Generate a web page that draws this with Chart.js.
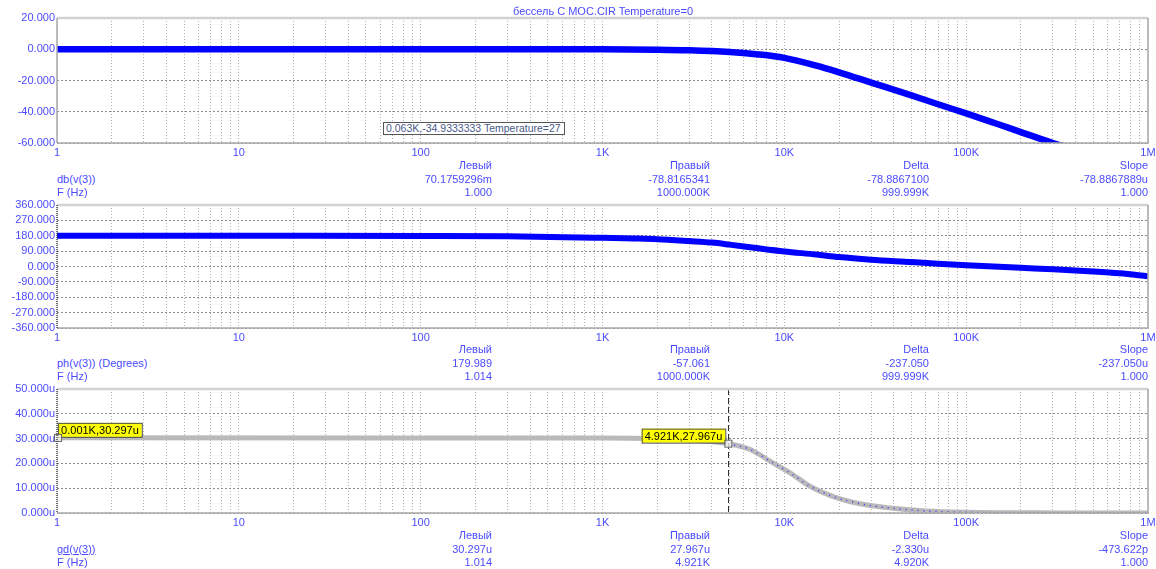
<!DOCTYPE html>
<html>
<head>
<meta charset="utf-8">
<script src="https://cdn.jsdelivr.net/npm/chart.js@4.4.1/dist/chart.umd.min.js"></script>
<style>
body { margin: 0; background: #fff; }
#wrap { position: relative; width: 1156px; height: 569px; overflow: hidden;
  font-family: "Liberation Sans", Arial, sans-serif; font-size: 11px; color: #4b4bff; }
canvas { position: absolute; left: 0; }
.t { position: absolute; white-space: nowrap; line-height: 12px; }
#tip { position: absolute; left: 383px; top: 122px; height: 11px; line-height: 11px; white-space: nowrap;
  border: 1.5px solid #555; background: #fff; color: #4a5a8a; font-size: 10.5px; padding: 0 3px 0 2px; }
</style>
</head>
<body>
<div id="wrap">
  <canvas id="c1" width="1156" height="160" style="top:0"></canvas>
  <canvas id="c2" width="1156" height="150" style="top:195px"></canvas>
  <canvas id="c3" width="1156" height="150" style="top:380px"></canvas>
  <div class="t" id="title" style="left:0;width:1206px;text-align:center;top:5px">бессель С МОС.CIR Temperature=0</div>
  <div id="tip">0.063K,-34.9333333 Temperature=27</div>
</div>
<script>
// x axis (log, 1 Hz .. 1 MHz)
const decades = [1, 10, 100, 1e3, 1e4, 1e5, 1e6];
const decadeLabels = ['1', '10', '100', '1K', '10K', '100K', '1M'];

// db(v(3))
const magFreq = [1, 10, 100, 1000, 2000, 3000, 5000, 7000, 10000, 15000, 20000, 30000, 50000, 70000, 100000, 150000, 200000, 300000, 500000, 1000000];
const magDb = [0.07, 0.07, 0.06, 0, -0.3, -0.7, -1.8, -3.2, -5.5, -10.5, -14.8, -21.3, -29.5, -35.2, -41, -48, -53, -60, -67, -78.8];
const magTicks = [-60, -40, -20, 0, 20];

// ph(v(3))
const phFreq = [1, 10, 100, 300, 1000, 1500, 2000, 3000, 4000, 5000, 7000, 10000, 15000, 20000, 30000, 50000, 70000, 100000, 200000, 300000, 500000, 700000, 1000000];
const phDeg = [179.99, 179.9, 179, 177, 168, 164, 160, 149, 140, 128, 108, 88, 70, 55, 40, 26, 16, 7, -8, -16, -29, -40, -57];
const phTicks = [-360, -270, -180, -90, 0, 90, 180, 270, 360];

// gd(v(3)), microseconds
const gdFreq = [1, 100, 1000, 2000, 3000, 4000, 4921, 6500, 8350, 10800, 13900, 18600, 26100, 39600, 60000, 100000, 300000, 1000000];
const gdUs = [30.297, 30.29, 30.2, 29.9, 29.4, 28.8, 27.967, 25.6, 20.9, 16.1, 10.7, 6.6, 3.7, 1.9, 0.8, 0.3, 0.05, 0.01];
const gdTicks = [0, 10, 20, 30, 40, 50];

// cursors on the gd plot
const cursorFreq = [1.014, 4921];
const cursorGd = [30.297, 27.967];
const cursorText = ['0.001K,30.297u', '4.921K,27.967u'];

// readouts under each plot
const colHeads = ['Левый', 'Правый', 'Delta', 'Slope'];
const readouts = [
  { name: 'db(v(3))', vals: ['70.1759296m', '-78.8165341', '-78.8867100', '-78.8867889u'], freqs: ['1.000', '1000.000K', '999.999K', '1.000'] },
  { name: 'ph(v(3)) (Degrees)', vals: ['179.989', '-57.061', '-237.050', '-237.050u'], freqs: ['1.014', '1000.000K', '999.999K', '1.000'] },
  { name: 'gd(v(3))', vals: ['30.297u', '27.967u', '-2.330u', '-473.622p'], freqs: ['1.014', '4.921K', '4.920K', '1.000'], underline: true }
];

const BLUE = '#4b4bff';
const FONT = { family: '"Liberation Sans", Arial, sans-serif', size: 11 };

// readout text
const colRight = [492, 710, 929, 1148];
const rowTop = [165, 349, 535];
const wrap = document.getElementById('wrap');
function txt(s, y, left, right, ul) {
  const d = document.createElement('div');
  d.className = 't';
  d.textContent = s;
  d.style.top = (y - 6) + 'px';
  if (left != null) d.style.left = left + 'px';
  if (right != null) d.style.right = (1156 - right) + 'px';
  if (ul) d.style.textDecoration = 'underline';
  wrap.appendChild(d);
}
readouts.forEach((r, i) => {
  const y = rowTop[i];
  colHeads.forEach((h, j) => {
    txt(h, y, null, colRight[j]);
    txt(r.vals[j], y + 13.5, null, colRight[j]);
    txt(r.freqs[j], y + 27, null, colRight[j]);
  });
  txt(r.name, y + 13.5, 57, null, r.underline);
  txt('F (Hz)', y + 27, 57);
});

function gridTicks() {
  const t = [];
  for (let i = 0; i < decades.length - 1; i++)
    for (let m = 1; m < 10; m++) t.push({ value: decades[i] * m });
  t.push({ value: decades[decades.length - 1] });
  return t;
}

const frame = {
  id: 'frame',
  afterDraw(chart, args, o) {
    const { ctx, chartArea: a } = chart;
    ctx.save();
    const seg = (x1, y1, x2, y2) => { ctx.beginPath(); ctx.moveTo(x1, y1); ctx.lineTo(x2, y2); ctx.stroke(); };
    ctx.strokeStyle = '#d2d2d2'; ctx.lineWidth = 2.5;
    seg(a.left, a.top, a.right, a.top);
    ctx.strokeStyle = '#a8a8a8'; ctx.lineWidth = 1.5;
    seg(a.right, a.top, a.right, a.bottom);
    seg(a.left, a.bottom, a.right + 1, a.bottom);
    if (o.dotted) { ctx.strokeStyle = '#404040'; ctx.setLineDash([1, 1]); }
    seg(a.left, a.top, a.left, a.bottom);
    ctx.restore();
  }
};

const cursors = {
  id: 'cursors',
  afterDatasetsDraw(chart) {
    const { ctx, chartArea: a, scales: { x, y } } = chart;
    ctx.save();
    const cx = Math.round(x.getPixelForValue(cursorFreq[1])) + 0.5;
    ctx.strokeStyle = '#303030'; ctx.lineWidth = 1; ctx.setLineDash([6, 3]);
    ctx.beginPath(); ctx.moveTo(cx, a.top); ctx.lineTo(cx, a.bottom); ctx.stroke();
    ctx.setLineDash([]);
    ctx.font = '11px "Liberation Sans", Arial, sans-serif';
    ctx.textBaseline = 'middle';
    cursorFreq.forEach((f, i) => {
      const px = x.getPixelForValue(f), py = y.getPixelForValue(cursorGd[i]);
      const w = ctx.measureText(cursorText[i]).width + 6, h = 14;
      const bx = i === 0 ? px : px - 3 - w;
      const by = py - 1 - h;
      ctx.fillStyle = '#ffff00'; ctx.fillRect(bx, by, w, h);
      ctx.strokeStyle = '#505050'; ctx.lineWidth = 1; ctx.strokeRect(bx + 0.5, by + 0.5, w, h);
      ctx.fillStyle = '#000'; ctx.fillText(cursorText[i], bx + 3, by + h / 2 + 1);
      ctx.fillStyle = 'rgba(255,255,255,0.7)'; ctx.fillRect(px - 3, py - 3, 7, 7);
      ctx.strokeStyle = '#606060'; ctx.strokeRect(px - 3.5, py - 3.5, 7, 7);
    });
    ctx.restore();
  }
};

function panel(id, padTop, datasets, yTicks, yFmt, dotted, extra) {
  return new Chart(document.getElementById(id), {
    type: 'line',
    data: { datasets },
    options: {
      responsive: false,
      animation: false,
      events: [],
      layout: { padding: { top: padTop, right: 8, left: 0, bottom: 0 } },
      plugins: { legend: { display: false }, tooltip: { enabled: false }, frame: { dotted } },
      elements: { point: { radius: 0 }, line: { cubicInterpolationMode: 'monotone' } },
      scales: {
        x: {
          type: 'logarithmic', min: decades[0], max: decades[decades.length - 1],
          afterBuildTicks: s => { s.ticks = gridTicks(); },
          afterFit: s => { s.height = 17; s.paddingRight = 0; s.paddingLeft = 0; },
          grid: { color: '#b4b4b4', lineWidth: 1, drawTicks: false },
          border: { display: false, dash: [1, 2] },
          ticks: {
            autoSkip: false, maxRotation: 0, padding: 3, color: BLUE, font: FONT,
            callback: v => { const k = decades.indexOf(v); return k < 0 ? '' : decadeLabels[k]; }
          }
        },
        y: {
          min: yTicks[0], max: yTicks[yTicks.length - 1],
          afterBuildTicks: s => { s.ticks = yTicks.map(v => ({ value: v })); },
          afterFit: s => { s.width = 57; s.paddingTop = 0; s.paddingBottom = 0; },
          grid: { color: '#8c8c8c', lineWidth: 1, drawTicks: false },
          border: { display: false, dash: [2, 2] },
          ticks: { autoSkip: false, padding: 2, color: BLUE, font: FONT, callback: yFmt }
        }
      }
    },
    plugins: [frame].concat(extra || [])
  });
}

const pts = (fs, vs) => fs.map((f, i) => ({ x: f, y: vs[i] }));

panel('c1', 18, [{
  data: pts(magFreq, magDb), borderColor: '#0000ff', borderWidth: 6.5, clip: 0
}], magTicks, v => v.toFixed(3), false);

panel('c2', 10, [{
  data: pts(phFreq, phDeg), borderColor: '#0000ff', borderWidth: 6, clip: 0
}], phTicks, v => v.toFixed(3), true);

const gdPts = pts(gdFreq, gdUs);
panel('c3', 9, [
  { data: gdPts.filter(p => p.x >= cursorFreq[1]), borderColor: '#3a3aff', borderWidth: 1.5, borderDash: [1, 5], clip: 0 },
  { data: gdPts, borderColor: '#b9b9b9', borderWidth: 5, clip: 0 }
], gdTicks, v => v.toFixed(3) + 'u', true, [cursors]);
</script>
</body>
</html>
